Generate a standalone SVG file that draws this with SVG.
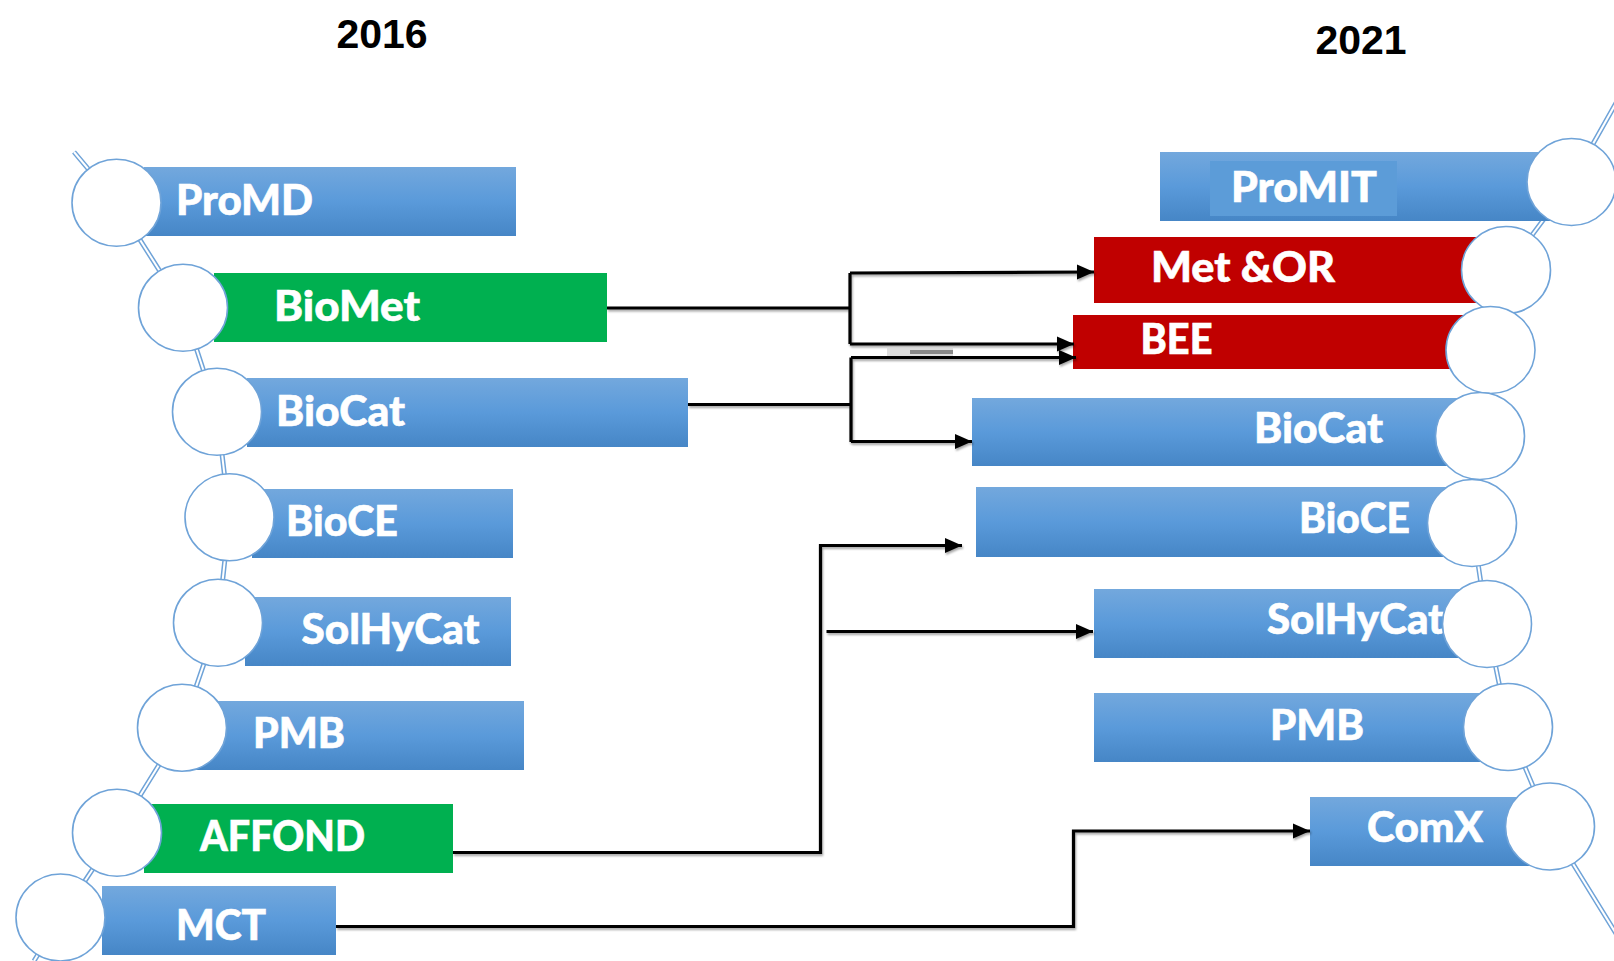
<svg xmlns="http://www.w3.org/2000/svg" width="1614" height="961" viewBox="0 0 1614 961">
<defs>
<linearGradient id="blue" x1="0" y1="0" x2="0" y2="1">
<stop offset="0" stop-color="#73A8DD"/>
<stop offset="0.5" stop-color="#5A9ADA"/>
<stop offset="1" stop-color="#4686C6"/>
</linearGradient>
<marker id="arr" markerUnits="userSpaceOnUse" markerWidth="17" markerHeight="17" viewBox="0 0 17 17" refX="17" refY="8.5" orient="auto">
<path d="M0,1 L17,8.5 L0,16 Z" fill="#000"/>
</marker>
<filter id="sh" x="-5%" y="-50%" width="110%" height="200%">
<feDropShadow dx="1" dy="2" stdDeviation="1.2" flood-color="#000" flood-opacity="0.35"/>
</filter>
</defs>
<style>
.b{fill:url(#blue)}
.g{fill:#00B050}
.r{fill:#C00000}
.c{fill:#fff;stroke:#6FA3D8;stroke-width:1.6}
.t{font-family:Lato,"Open Sans","Liberation Sans",sans-serif;font-weight:900;font-size:42px;fill:#fff;stroke:#fff;stroke-width:0.6}
.y{font-family:"Liberation Sans",Arial,sans-serif;font-weight:700;font-size:41px;fill:#000;text-anchor:middle}
.bo{fill:none;stroke:#6FA3D8;stroke-width:5;stroke-linejoin:round}
.bi{fill:none;stroke:#fff;stroke-width:2;stroke-linejoin:round}
.k{fill:none;stroke:#000;stroke-width:3.2}
</style>
<rect width="1614" height="961" fill="#fff"/>
<text class="y" x="382" y="48">2016</text>
<text class="y" x="1361" y="54">2021</text>
<g id="backbone">
<path class="bo" d="M74,152 L116.5,202.7 L183,307.7 L217,411.7 L229.5,517.3 L218,622.7 L182,727.7 L117,832.7 L60.5,917.5 L34,961"/>
<path class="bi" d="M74,152 L116.5,202.7 L183,307.7 L217,411.7 L229.5,517.3 L218,622.7 L182,727.7 L117,832.7 L60.5,917.5 L34,961"/>
<path class="bo" d="M1620,96 L1571.5,182 L1506,270 L1490.5,350 L1480,436 L1472,523 L1487,624 L1508,727 L1550,826.5 L1620,940"/>
<path class="bi" d="M1620,96 L1571.5,182 L1506,270 L1490.5,350 L1480,436 L1472,523 L1487,624 L1508,727 L1550,826.5 L1620,940"/>
</g>
<g id="n2016-ProMD"><rect class="b" x="144" y="167" width="372" height="69"/><text class="t" x="176" y="215" textLength="137" lengthAdjust="spacingAndGlyphs">ProMD</text><ellipse class="c" cx="116.5" cy="202.7" rx="44.5" ry="43.5"/></g>
<g id="n2016-BioMet"><rect class="g" x="214" y="273" width="393" height="69"/><text class="t" x="274" y="321" textLength="146" lengthAdjust="spacingAndGlyphs">BioMet</text><ellipse class="c" cx="183" cy="307.7" rx="44.5" ry="43.5"/></g>
<g id="n2016-BioCat"><rect class="b" x="247" y="378" width="441" height="69"/><text class="t" x="276" y="426" textLength="129" lengthAdjust="spacingAndGlyphs">BioCat</text><ellipse class="c" cx="217" cy="411.7" rx="44.5" ry="43.5"/></g>
<g id="n2016-BioCE"><rect class="b" x="252" y="489" width="261" height="69"/><text class="t" x="286" y="536" textLength="112" lengthAdjust="spacingAndGlyphs">BioCE</text><ellipse class="c" cx="229.5" cy="517.3" rx="44.5" ry="43.5"/></g>
<g id="n2016-SolHyCat"><rect class="b" x="245" y="597" width="266" height="69"/><text class="t" x="301.5" y="644" textLength="178" lengthAdjust="spacingAndGlyphs">SolHyCat</text><ellipse class="c" cx="218" cy="622.7" rx="44.5" ry="43.5"/></g>
<g id="n2016-PMB"><rect class="b" x="196" y="701" width="328" height="69"/><text class="t" x="253" y="748" textLength="92" lengthAdjust="spacingAndGlyphs">PMB</text><ellipse class="c" cx="182" cy="727.7" rx="44.5" ry="43.5"/></g>
<g id="n2016-AFFOND"><rect class="g" x="144" y="804" width="309" height="69"/><text class="t" x="200" y="851" textLength="165" lengthAdjust="spacingAndGlyphs">AFFOND</text><ellipse class="c" cx="117" cy="832.7" rx="44.5" ry="43.5"/></g>
<g id="n2016-MCT"><rect class="b" x="102" y="886" width="234" height="69"/><text class="t" x="176" y="940" textLength="90" lengthAdjust="spacingAndGlyphs">MCT</text><ellipse class="c" cx="60.5" cy="917.5" rx="44.5" ry="43.5"/></g>
<g id="n2021-ProMIT"><rect class="b" x="1160" y="152" width="430" height="69"/><rect x="1210" y="161" width="187" height="55" fill="#5C9CD8"/><text class="t" x="1231" y="202" textLength="146" lengthAdjust="spacingAndGlyphs">ProMIT</text><ellipse class="c" cx="1571.5" cy="182" rx="44.5" ry="43.5"/></g>
<g id="n2021-MetOR"><rect class="r" x="1094" y="237" width="420" height="66"/><text class="t" x="1151" y="282" textLength="184" lengthAdjust="spacingAndGlyphs">Met &amp;OR</text><ellipse class="c" cx="1506" cy="270" rx="44.5" ry="43.5"/></g>
<g id="n2021-BEE"><rect class="r" x="1073" y="315" width="420" height="54"/><text class="t" x="1140.5" y="354" textLength="72" lengthAdjust="spacingAndGlyphs">BEE</text><ellipse class="c" cx="1490.5" cy="350" rx="44.5" ry="43.5"/></g>
<g id="n2021-BioCat"><rect class="b" x="972" y="398" width="500" height="68"/><text class="t" x="1254" y="443" textLength="129" lengthAdjust="spacingAndGlyphs">BioCat</text><ellipse class="c" cx="1480" cy="436" rx="44.5" ry="43.5"/></g>
<g id="n2021-BioCE"><rect class="b" x="976" y="487" width="490" height="70"/><text class="t" x="1299" y="533" textLength="111" lengthAdjust="spacingAndGlyphs">BioCE</text><ellipse class="c" cx="1472" cy="523" rx="44.5" ry="43.5"/></g>
<g id="n2021-SolHyCat"><rect class="b" x="1094" y="589" width="390" height="69"/><text class="t" x="1267" y="634" textLength="177" lengthAdjust="spacingAndGlyphs">SolHyCat</text><ellipse class="c" cx="1487" cy="624" rx="44.5" ry="43.5"/></g>
<g id="n2021-PMB"><rect class="b" x="1094" y="693" width="410" height="69"/><text class="t" x="1270" y="740" textLength="94" lengthAdjust="spacingAndGlyphs">PMB</text><ellipse class="c" cx="1508" cy="727" rx="44.5" ry="43.5"/></g>
<g id="n2021-ComX"><rect class="b" x="1310" y="797" width="236" height="69"/><text class="t" x="1367" y="842" textLength="116" lengthAdjust="spacingAndGlyphs">ComX</text><ellipse class="c" cx="1550" cy="826.5" rx="44.5" ry="43.5"/></g>
<g id="connectors" filter="url(#sh)">
<path class="k" d="M607,308 H850"/>
<path class="k" d="M850,273 V344"/>
<path class="k" d="M850,273 L1094,272" marker-end="url(#arr)"/>
<path class="k" d="M850,344 H1074" marker-end="url(#arr)"/>
<path class="k" d="M688,404.5 H851"/>
<path class="k" d="M851,357.5 V442"/>
<path class="k" d="M851,357.5 H1076" marker-end="url(#arr)"/>
<path class="k" d="M851,441.5 H972" marker-end="url(#arr)"/>
<path class="k" d="M453,852.5 H820.5 V545.5 H962" marker-end="url(#arr)"/>
<path class="k" d="M826.5,631.5 H1093" marker-end="url(#arr)"/>
<path class="k" d="M336,926.5 H1073.5 V831 H1310" marker-end="url(#arr)"/>
</g>
<rect x="887" y="347" width="66" height="9" fill="#d6d6d6" opacity="0.8"/>
<rect x="910" y="350" width="43" height="4" fill="#666" opacity="0.7"/>
</svg>
